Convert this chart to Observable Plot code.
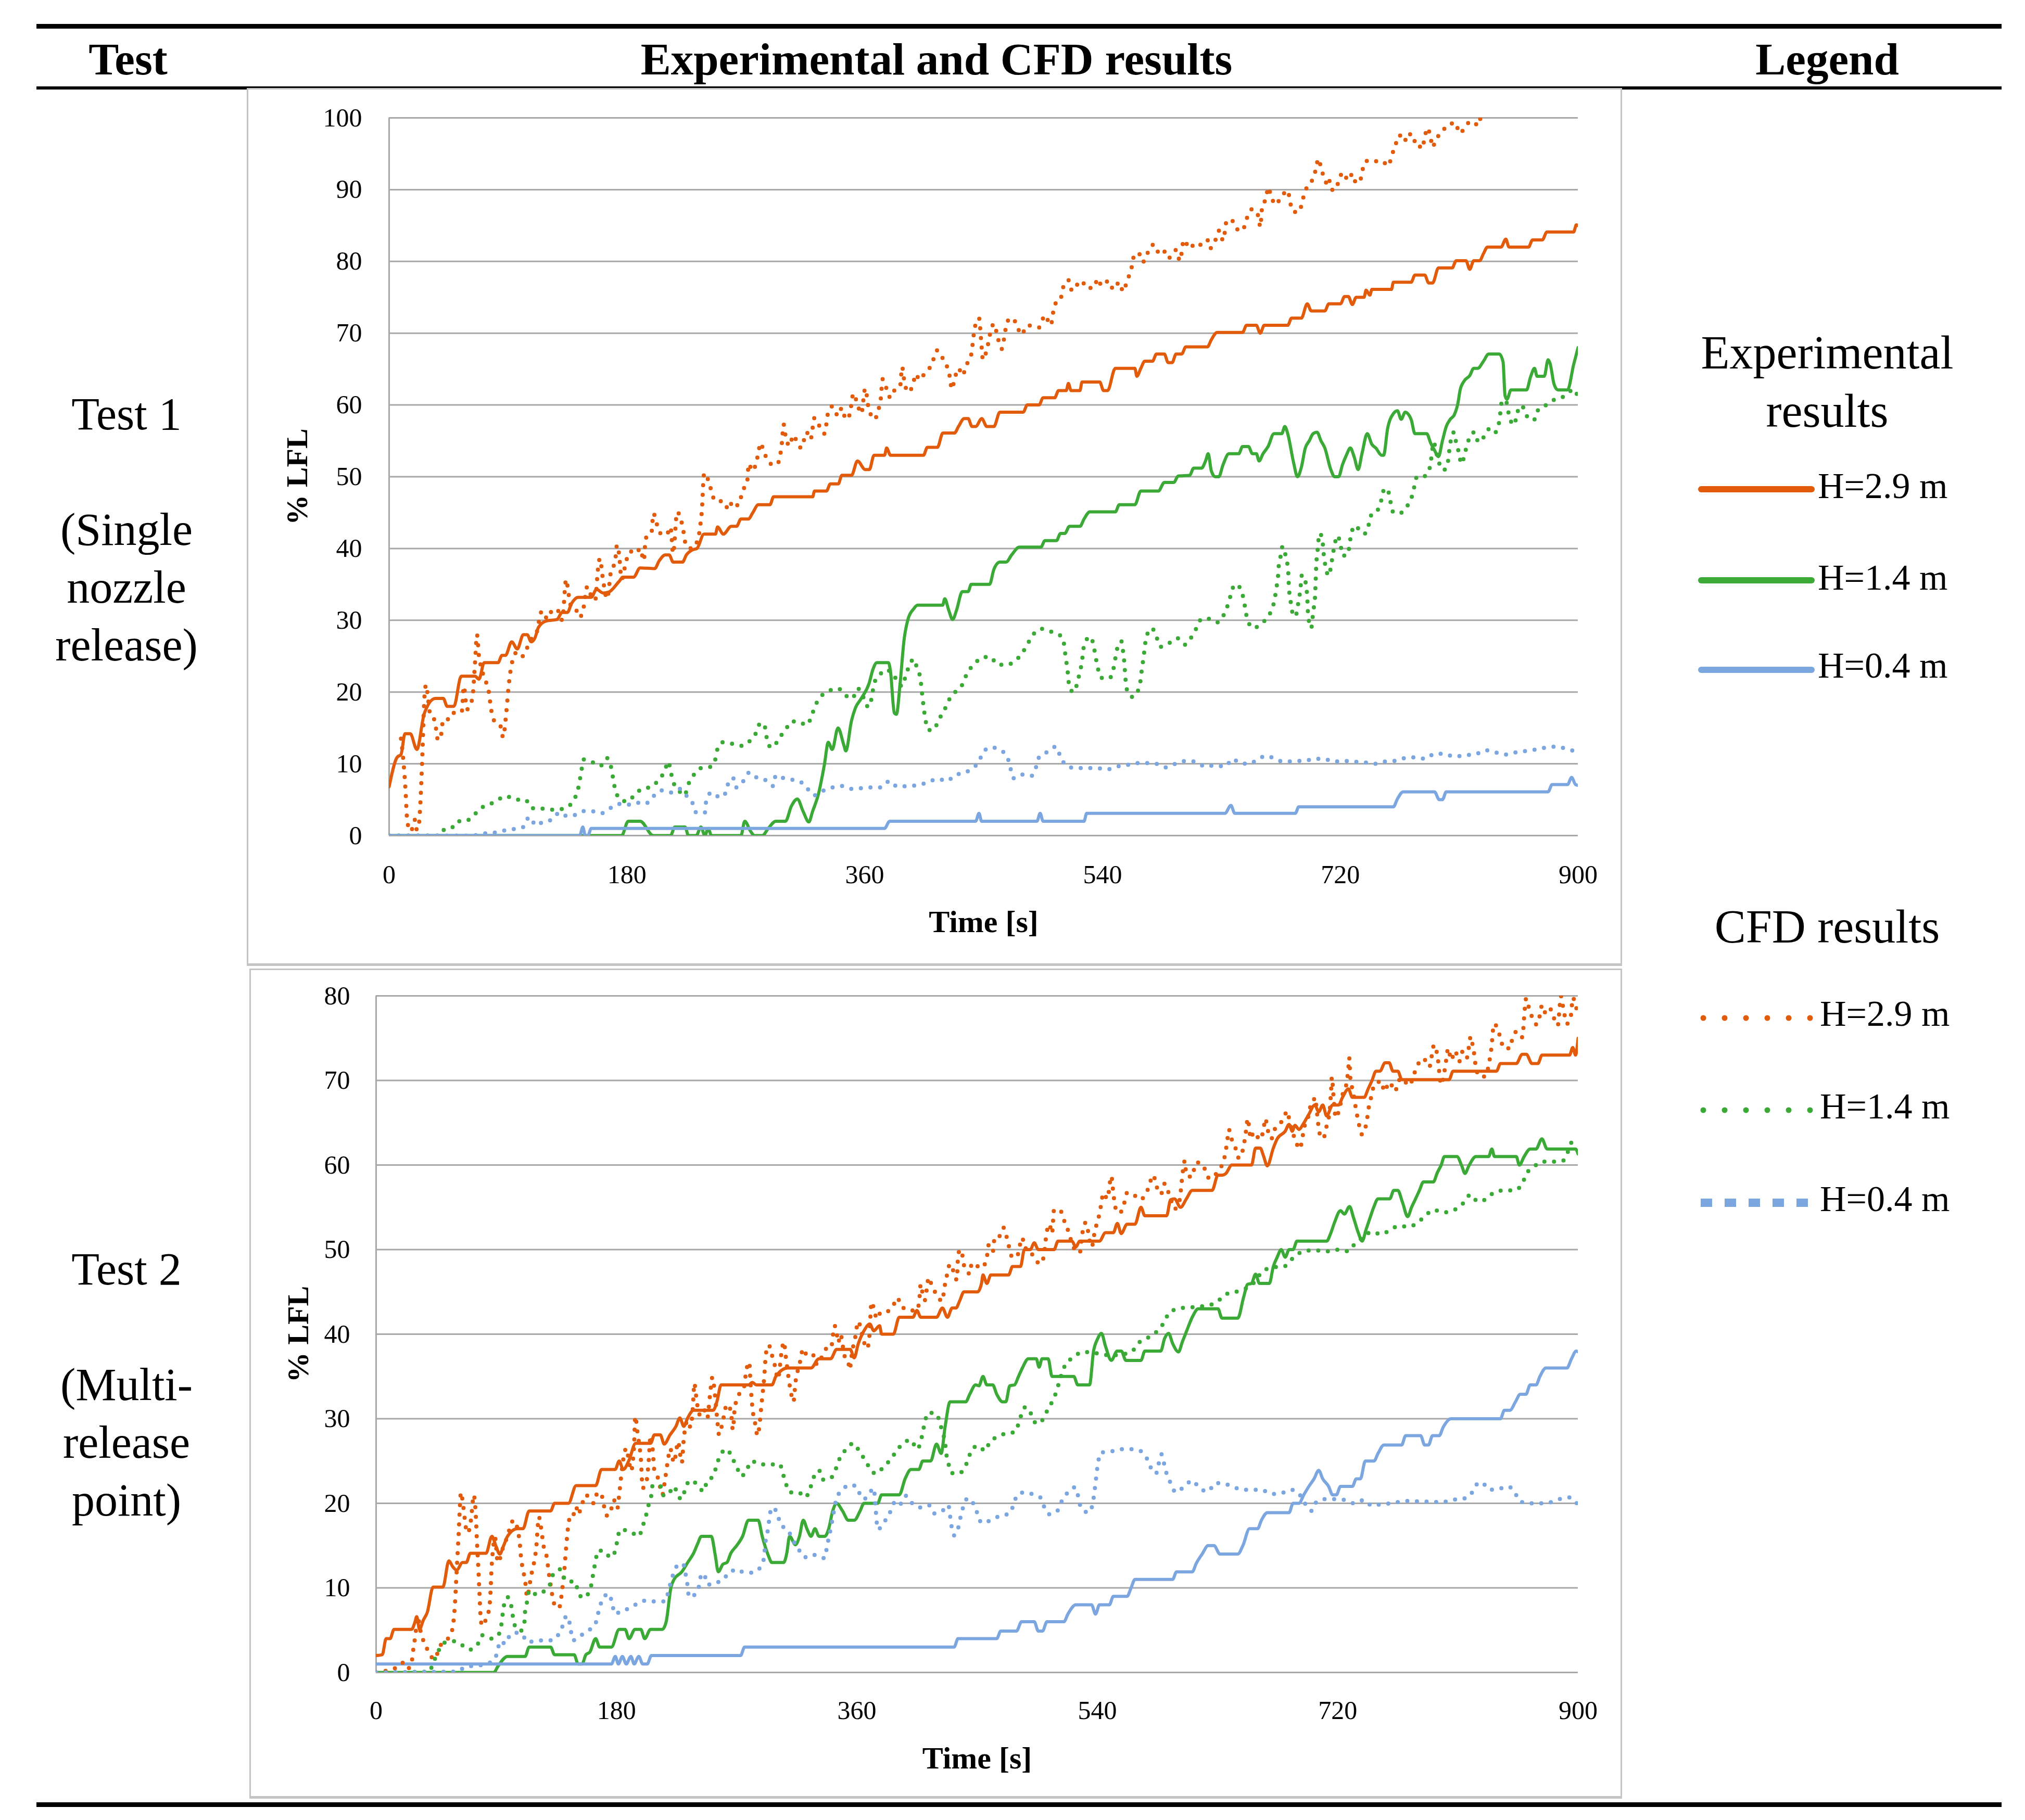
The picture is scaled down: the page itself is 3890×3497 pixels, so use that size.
<!DOCTYPE html>
<html><head><meta charset="utf-8">
<script src="https://cdn.jsdelivr.net/npm/d3@7"></script>
<script src="https://cdn.jsdelivr.net/npm/@observablehq/plot@0.6"></script>
<style>
html,body{margin:0;padding:0;background:#fff;overflow:hidden;}
#page{position:relative;width:3890px;height:3497px;font-family:"Liberation Serif","Times New Roman",serif;color:#000;}
.abs{position:absolute;}
.rule{position:absolute;background:#000;left:70px;width:3775px;}
.hdr{position:absolute;font-weight:bold;font-size:87px;line-height:87px;white-space:nowrap;text-align:center;}
.col{position:absolute;font-size:88px;line-height:111px;text-align:center;white-space:nowrap;}
.box{position:absolute;box-sizing:border-box;border:3px solid #c4c4c4;border-bottom-width:5px;background:#fff;}
.lg{position:absolute;font-size:70px;line-height:70px;white-space:nowrap;}
.lgt{position:absolute;font-size:90px;line-height:112px;text-align:center;white-space:nowrap;}
</style></head>
<body><div id="page"></div>
<script>
// ---------------- data: time [s] / % LFL ----------------
const xTicks = [0, 180, 360, 540, 720, 900];
const yTicks1 = [0,10,20,30,40,50,60,70,80,90,100];
const yTicks2 = [0,10,20,30,40,50,60,70,80];
const heights = ["H=2.9 m", "H=1.4 m", "H=0.4 m"];
const colors = ["#E15B0B", "#3AA935", "#7CA6DF"];

// Test 1 – experimental
const t1Exp29 = [[0,6.8],[6,10.9],[9,11.3],[12,14.2],[16,14.2],[21,12],[26.6,17],[35,19.1],[41,19.1],[44,18],[49,18],[54.6,22.2],[65,22.2],[68,21.8],[72,24.1],[82.5,24.1],[85.4,25.1],[88,25.1],[92.8,27],[97,26],[101.6,28],[104.5,28],[107.5,27],[110.5,27.6],[113,29],[119,29.9],[127,30.1],[131,31.1],[135,31.1],[138,32.3],[143,33.2],[153,33.2],[157,34.3],[162,33.8],[166,33.9],[174,35.4],[177,36],[185,36],[190,37.3],[201,37.2],[204.5,38.3],[209,39.1],[212,39.1],[215,38.1],[222,38.1],[225,39.1],[229.5,39.8],[233,40],[238.3,42],[247,42],[248.6,43],[253,42],[259,43.1],[263,43.1],[266.3,44.1],[272,44.1],[275,44.9],[279.5,46.1],[288.3,46.1],[291,47.2],[320.6,47.2],[322,48],[331,48],[334,49],[340,49],[342.7,50.2],[350,50.2],[354.5,52.2],[360.4,51],[363.5,51],[367.1,53],[375,53],[376.6,54],[379.5,53],[404.5,53],[407.4,54.1],[415,54.1],[419.2,56.1],[428,56.1],[431,57],[435.3,58.1],[438.3,58.1],[441.2,57],[444,57],[448.6,58.1],[452.4,57],[457.8,57],[462.3,59],[480,59],[483,60],[492,60],[495,61],[503.8,61],[506.7,62],[512.5,62],[514.2,63],[516.2,62],[522.9,62],[524.5,63.2],[537.9,63.2],[540.8,62],[543.8,62],[549.7,65.1],[564.5,65.1],[566,64],[569,65.1],[572,66.1],[577.9,66.1],[580.8,67.1],[586.8,67.1],[589.7,65.9],[592.7,65.9],[595.7,67.1],[600,67.1],[603,68.1],[619.4,68.1],[622.4,69.1],[626.8,70.1],[646,70.1],[649,71.1],[656.4,71.1],[659.4,70],[662.4,71.1],[680.2,71.1],[683.1,72.1],[690.5,72.1],[695,74.1],[698,73.1],[708.3,73.1],[711.3,74.1],[720.2,74.1],[723.2,75.1],[726.1,75.1],[729.1,74],[732,75],[738,75],[739.5,76],[742.4,75.3],[743.9,76.1],[758.7,76.1],[760.2,77.1],[773.6,77.1],[776.5,78.1],[783.9,78.1],[786.9,77],[789.9,77],[794.3,79.1],[804.7,79.1],[807.7,80.1],[815.1,80.1],[818,78.9],[821,80.1],[825.5,80.1],[828.4,81.1],[831.4,82],[841.7,82],[845.3,83.1],[847.7,82],[862.5,82],[865.5,83],[872.9,83],[876.4,84.1],[896.6,84.1],[898.7,85.1],[900,85]];
const t1Exp14 = [[0,0],[176,0],[181,2],[190,2],[200,0],[213,0],[216.3,1.2],[224,1.2],[226.6,0],[232.5,0],[236,1.2],[239,0],[241.5,1],[244,0],[266.3,0],[269.2,2],[273.6,0.6],[276.6,0],[282.5,0],[287,1],[292.7,2],[300,2],[304.5,4.1],[309,5.1],[313.3,3.4],[317.7,1.9],[320.6,3.4],[325,5.8],[329.5,9.9],[332.4,13],[335.4,12],[339.8,15],[344.2,12.6],[345.7,11.8],[350,16],[353,17.8],[357.4,19.1],[363.3,21.2],[366.3,23.2],[369.2,24.1],[378,24.1],[379.5,22.9],[382.4,17.1],[384,16.9],[386.8,21.2],[389.8,27.3],[392.7,30.1],[397.1,31.6],[400,32.1],[419,32.1],[420.6,33],[423.6,31.4],[426.5,30.1],[429.5,31.4],[433.9,34],[438.3,34],[440.6,35],[454.5,35],[457.8,37.1],[462.3,38.1],[467,38.1],[471.2,39.1],[477,40.2],[493.4,40.2],[496.4,41.1],[505.2,41.1],[508.2,42.1],[511.5,42.1],[515,43.1],[523,43.1],[526,44.1],[530.4,45.1],[549.7,45.1],[552.7,46.1],[564.5,46.1],[569,48],[582.3,48],[586.8,49.2],[594,49.2],[597.2,50.1],[606,50.2],[609,51.2],[615,51.2],[618,52.2],[620,53.2],[622.4,50.8],[625.3,50],[628,50],[631.3,51.7],[635.7,53.2],[643.1,53.2],[646,54.2],[650.5,54.2],[653.5,53.2],[656.5,53.2],[658.5,52.2],[661.5,53.2],[665.3,54.2],[669.8,56],[675.7,56],[678,57],[680.2,56],[684.6,52],[687.6,50],[690.5,51.3],[693.5,54],[696.5,55],[699.4,56],[702.4,56.2],[705.4,55],[708.3,54],[712.8,51],[715.7,50],[718.7,50],[721.7,51.7],[724.6,53],[727.6,54],[730.6,52.7],[733.5,51],[736.5,53.3],[740.4,56],[743.9,54.5],[746.9,54],[751.3,53],[752.8,53],[755.8,56.7],[760.2,58.8],[763.2,59.2],[766.1,58],[769.1,59],[773.6,58],[776.5,56],[785.4,56],[788.4,54.7],[791.3,53.7],[794.3,52.8],[797.3,55],[800.2,57],[803.2,58],[806.2,58.6],[809.1,60.3],[810.6,62],[813.6,63.3],[818,64.1],[821,65.1],[824,65.1],[828.4,66.1],[832.3,67.1],[840.3,67.1],[843.2,66],[844.7,61.3],[846.2,60.8],[849.2,62.1],[861,62.1],[864,63.9],[867,65.1],[869,64],[874.4,64],[877.3,66.3],[878.8,65.8],[881.8,62.9],[884.7,62.1],[892,62.1],[896.6,65.6],[900,68]];
const t1Exp04 = [[0,0],[144.3,0],[146.6,1.2],[148.5,0],[150.5,0],[153,1],[375,1],[378.9,2],[444,2],[446.5,3.1],[448.5,2],[490.4,2],[492.8,3.1],[495,2],[526,2],[528,3.1],[632.7,3.1],[637.2,4.2],[640.1,3.1],[686,3.1],[688.5,4],[760.2,4],[763.2,5.1],[767.6,6.1],[791.3,6.1],[794.9,5],[797.3,5],[800.2,6.1],[877.3,6.1],[880.3,7.1],[892,7.1],[895.1,8.1],[898.1,7.1],[900,7]];

// Test 1 – CFD
const t1Cfd29 = [[9,13.5],[11,10],[12.5,6],[13.5,2.5],[15,1],[16.5,0.6],[18,1.3],[19.5,2.2],[21,0.8],[22.5,1.5],[23.5,4],[24.5,8],[25.3,12],[26,16],[26.8,19.5],[28,21],[29.5,19],[31,17],[33,16.7],[35,15.5],[37,13.3],[39,13.7],[41,16.2],[46,16.2],[50,17.3],[55,17.3],[56.5,20.8],[59,17.6],[63,19.1],[65,24],[66.5,28],[68,25],[70,23.3],[72,21.9],[75,20.5],[77.5,17.3],[79.5,16],[84,15.4],[86.3,13.7],[88.4,16.6],[90.7,21.2],[92.8,23.9],[97,25.6],[101,25],[104,26],[108,27.5],[112,28.5],[115,31.1],[118,30.2],[121,31.3],[125,30.8],[128,31.3],[131,30],[134,35.7],[136,33.5],[138,31.8],[141,31.6],[144.3,30.4],[147,31.6],[150,34.7],[153,33.4],[156,32.8],[158,37],[159.5,38.6],[162,35.5],[165,33],[168,36.9],[171,38.1],[172.5,40.5],[174,39.3],[176,35.7],[179.5,38.3],[182.5,39.6],[187,39.3],[190,40],[192.8,38.3],[194.2,41.4],[198.6,42.2],[200,44.9],[203,43.2],[206,42],[210,41.9],[213,43],[215,39.3],[218,45.1],[222,43.2],[225,40.3],[229.5,40],[232,40.5],[235.4,43],[237,46.1],[237.8,49.2],[238.5,50.5],[241,49.8],[243,48.6],[247,46.6],[253,46.6],[257,45.4],[260,46.6],[264,46],[268,48.2],[271,49.2],[272.2,51.8],[275,50.8],[279.5,53.3],[281,54.7],[284,53.3],[287,52.2],[291,51.6],[294,51.8],[296,53],[297.2,54.5],[298.6,57.3],[300,55.8],[303,54.3],[306,55.8],[309,54.7],[312,54],[316,56.2],[319,55.2],[322,58.2],[325,57.3],[329.5,56],[332.4,59],[335.4,59.8],[339.8,58.5],[342.7,59.6],[345.7,58],[348.5,58.6],[351.5,61.6],[354.5,60.1],[357.4,58.8],[360.4,62.3],[363,59.5],[367.7,58],[370,59.2],[372,60.6],[373.6,63.6],[376.5,62.3],[379.5,61],[382.4,62],[386.8,62.6],[388.3,65.3],[390,63.3],[392.7,61.8],[396.5,62.8],[398.6,64.3],[401.5,63.5],[406,64.6],[410.4,65.5],[414.8,67.6],[417.7,67],[420.6,65.8],[423.6,64.8],[424.8,63.3],[425.9,62.2],[428,63.6],[431,65.1],[434,64.1],[436.8,65.5],[440.6,67],[442.7,70],[444,71.3],[446.5,72.1],[448,69.3],[449.5,66.3],[451.5,67.1],[453.4,68.5],[455,70],[457.8,71.3],[460.8,69.3],[463.7,67.8],[466.7,70.6],[469.7,72.1],[474,71.6],[478.6,69.8],[483,71.1],[492,70.8],[496.4,72.5],[500.8,71.1],[503.8,74],[508.2,74.6],[509.7,76.1],[514.1,77.4],[517,75.9],[520,76.6],[524.5,77.3],[527.5,76.3],[533.4,76.3],[536.4,77.6],[539.3,76.6],[544.7,77.3],[548.2,76.1],[552.7,77.1],[555.6,75.8],[558.6,77.3],[561.6,78.8],[564.5,81.1],[567.5,81.1],[570.5,79.9],[573.4,80.9],[577.9,82.3],[580.8,81.3],[585.3,81.8],[589.7,80.4],[592.7,81],[595.7,81.6],[598.6,80.1],[601.6,83],[606,81.8],[610.5,82.6],[615,82.3],[619.4,83],[621.2,81.8],[625.3,82.9],[628.3,84.3],[631.3,82.9],[634.2,85.8],[638.7,85.6],[643.1,84.3],[646,84.3],[649,85.9],[653.5,87.3],[658,86.3],[659.4,84.8],[661,87.8],[663.9,88.8],[665.3,90.3],[667.7,89.1],[670.7,87.9],[675.7,89.1],[680.2,89.9],[682.2,88.1],[684.6,86.9],[689,86.9],[691.1,88.3],[693.5,89.8],[696.5,90.9],[699.4,91.5],[701.8,93.1],[703.3,94.3],[705.4,93.1],[707.7,91.6],[709.8,90.9],[711.3,91.6],[712.8,90.1],[715.7,89.9],[718.7,91.1],[721.7,92.4],[726.1,91.3],[729.1,92.2],[732,90.9],[735,91.2],[736.5,92.5],[739.5,94],[743.9,93.8],[748.4,94],[751.4,94],[756.4,93.3],[758.7,94.6],[761.7,96.2],[764.7,97.6],[768.2,96.7],[772.1,97.9],[775,96.7],[778,96.9],[780,96.1],[781.9,95.7],[784,97.4],[786,98.6],[788.4,97.2],[789.9,95.9],[792,96.9],[796.7,97.9],[801.1,99],[807.7,99.3],[809.7,97.9],[812,98.1],[816,99.2],[821,99.5],[824,98.9],[826,99.9],[828,100.6]];
const t1Cfd14 = [[0,0],[38,0],[40,0.7],[47,1],[51.6,2],[57.5,2],[63.4,2.7],[69.3,3.8],[76.6,4.4],[82.5,5],[88.4,5.5],[95.7,5],[103,5],[108.4,3.8],[114.3,3.8],[120.7,3.6],[126.6,3.6],[134,3.9],[139.8,5],[142.8,6.3],[144.3,7.7],[145.7,9.2],[147.2,10.6],[153,10.3],[159.8,9.7],[164.8,10.8],[167.8,9.7],[170.7,6.8],[173,5.5],[178,4.8],[181,4.8],[185.4,5.6],[191.3,6.5],[198.7,6.8],[204.5,7.9],[208.4,8.9],[211.3,10.3],[213.4,8.7],[215.4,7.3],[218.4,6.5],[223.6,5.6],[226.6,7.2],[230.4,8.4],[236,9.4],[243.6,9.6],[247.2,10.8],[248.6,12.1],[252.5,13],[259.8,12.8],[267.2,12.5],[273.6,13.3],[278,14.4],[281,15.7],[284,15.4],[287,12.6],[290.7,12.3],[294.8,13.5],[300,14.7],[304.5,15.9],[309,15.9],[316.3,15.4],[319.8,16.7],[322.8,18.2],[326.5,19.3],[332.4,20.1],[339.8,20.5],[345.7,19.5],[350.7,19.1],[354.5,20.5],[357.4,20],[360.4,18.6],[362.7,17.9],[365.4,19.3],[367.1,21.2],[370.7,22.2],[375.7,23.1],[381,22.6],[384.8,21.5],[388.3,20.8],[391.2,22.4],[393.6,23.6],[397.1,24.6],[399.5,23.4],[402.1,21.9],[403.9,19],[406,16.1],[408.3,14.7],[411.8,14.7],[416.2,16.2],[420.6,17.6],[424.4,19.1],[429.5,20.2],[434.4,21.2],[437.4,22.6],[442.7,23.8],[448.6,24.8],[454.9,24.9],[460.8,23.8],[467.6,23.8],[474.1,24.4],[479.5,25.5],[483.6,26.8],[487.5,28],[494.3,28.8],[501.4,28.4],[509.1,27.7],[511.2,26.3],[512.1,24.8],[513.3,23.4],[514.1,21.9],[515,20.5],[518.6,20],[521,21.4],[523,22.9],[524.5,24.3],[525.4,25.8],[527.5,27.2],[531,27.7],[533.4,26.3],[534.9,24.8],[536.4,23.4],[538.7,22],[545.3,21.9],[548.2,23.2],[551.2,26.1],[554.2,27.1],[555.6,25.6],[556.5,24.1],[557.1,22.6],[557.7,21.2],[559.5,19.8],[563,19.3],[567.5,20.5],[569,21.9],[569.9,23.4],[571.1,24.8],[572,26.3],[573.4,27.8],[577.3,28.9],[580.8,27.7],[583.8,26.3],[590.3,26.8],[596.6,27.5],[602.5,26.6],[607.5,27.7],[611.4,29],[615,30.2],[620.9,30.2],[626.8,29.7],[631.9,30.8],[634.8,32.1],[637.2,33.6],[640.1,35],[644.6,34.4],[646.7,33],[648.2,31.5],[649.6,30.1],[654.4,28.9],[659.7,29.5],[664.4,30.3],[668.3,31.6],[670.4,33],[671.6,34.5],[672.8,36],[673.3,37.4],[674.8,38.9],[676.3,40.3],[678.7,38.9],[680.2,37.4],[680.8,36],[681.1,34.5],[682.2,33],[683.1,31.5],[686.1,30.5],[687.6,31.8],[689,33.3],[690,34.7],[690.5,36.2],[692.9,36.2],[694.1,34.7],[695,33.2],[695.3,31.8],[695.9,30.3],[698,28.9],[699,30.3],[700,31.8],[700.9,33.3],[701.2,34.7],[701.5,36.2],[701.8,37.7],[702.4,39.1],[703.3,40.6],[703.9,42.1],[706,41.7],[707.7,38.8],[709,37.3],[711.3,36.2],[713,37.6],[714.3,39.1],[715.7,40.5],[717.8,41.8],[720.2,40.5],[721.7,39],[725.5,39.1],[727,40.5],[728.2,42],[731.4,43.2],[736.5,42.1],[739,42.1],[741.8,43.5],[743.9,44.9],[748.4,45.4],[751.3,46.9],[753.4,48.4],[756.4,47.9],[758.1,46.4],[760.2,45],[764.7,44.9],[770.6,45.9],[774.1,47.2],[776,48.6],[778,50],[782.4,50],[786.9,50.7],[788.4,52],[790.8,54.8],[792.5,53.5],[794.3,52.3],[796.7,51],[799,51],[801.7,52.3],[802.6,53.8],[803.8,55.2],[806.2,56.2],[807.7,54.7],[810,53.2],[811.5,51.8],[813.6,52.7],[815.6,54.2],[818,55.5],[821.6,56.2],[824.6,54.8],[829.3,55.7],[833.4,56.8],[837.3,56.2],[840.3,57.7],[841.2,59],[842.4,60.6],[845.3,60.6],[847.1,59.1],[849.2,57.7],[851.5,57.2],[853.6,58.6],[856,59.9],[859.5,59.4],[862.5,58],[867,58],[870,59.4],[875,59.9],[880.3,60.6],[886.2,60.9],[891.6,61.5],[896.6,62.2],[900,61]];
const t1Cfd04 = [[0,0],[63,0],[72,0.3],[79.6,0.4],[87,0.7],[94.3,0.9],[101.6,1.2],[106,2.6],[111.3,1.4],[116.3,1.9],[123,2.2],[129,3.2],[134.8,2.7],[141.3,2.9],[147.2,3.4],[153,3.4],[160.4,3.1],[167.2,3.8],[173.7,4.4],[181,4.3],[186.9,4.6],[193.7,4.4],[200.1,5.5],[206,6.3],[213.4,6],[220.1,6.5],[223.6,5.8],[229.5,4.6],[232.5,3.2],[239,3.2],[240,4.8],[244,6],[250.7,5.3],[255.4,6.2],[257.2,7.7],[260.4,8],[262.8,6.7],[267.7,7.5],[272.8,8.8],[278.9,8],[285.4,7.7],[290.7,6.9],[292.7,8.4],[298.6,8],[304.5,7.8],[310.4,7.6],[316.3,6.6],[321.6,5.6],[328,6.2],[335.4,6.7],[342.7,6.9],[350,6.5],[357.4,6.6],[364.8,6.7],[372,6.7],[378.9,7.6],[384.8,6.8],[392.1,6.9],[399.5,7],[407.4,7.4],[415.4,7.9],[422.1,7.6],[428.9,8.5],[435.3,8.7],[441.2,9.4],[446.5,10.3],[449.5,11.6],[455.7,12.3],[462.9,11.9],[468.2,10.8],[470.3,9.4],[472.6,8],[478.6,8.5],[486,8.3],[489.8,9.6],[491.9,10.9],[498.7,11.7],[504.7,12.4],[508.2,11],[512.7,9.7],[520.1,9.4],[528.1,9.4],[535.8,9.4],[543.2,9.2],[550.6,9.6],[557.7,9.8],[565.4,10.1],[572.8,10.1],[580.8,10],[587.7,9.5],[595.1,10],[603.1,10.4],[610.5,10.3],[617.9,9.6],[625.3,9.8],[632.7,9.6],[638.7,10.7],[643.7,10.1],[651.4,10],[657.9,10.7],[664.7,11.1],[672.2,10.5],[679.3,10.3],[686.7,10.4],[693.5,10.4],[699.4,10.7],[707.4,10.7],[714.9,10.3],[722.6,10.4],[730,10.3],[738,10.2],[746,10],[753.4,10.3],[761.1,10.4],[769.1,10.8],[776.5,10.9],[784.5,10.7],[791.3,11.4],[798.7,11.4],[806.2,11],[814.5,11.2],[821.9,11.3],[829.9,11.9],[837.3,11.6],[845.3,11.3],[853,11.6],[861,11.8],[868.4,12],[876.7,12.3],[884.1,12.4],[892.1,12],[900,11.7]];

// Test 2 – experimental
const t2Exp29 = [[0,2],[4.6,2.1],[7.5,4],[10.5,4],[13.4,5.1],[26.6,5.1],[29,5.9],[30.4,6.6],[32.5,5.1],[35.4,6.2],[38.3,7.1],[42.7,10.1],[50,10.1],[54.5,13.2],[57.4,12.5],[60.3,12.1],[64.7,13],[67.5,13],[70.6,14.1],[82.3,14.1],[86.7,16.1],[89.6,15],[92.6,14],[95.5,15],[98.4,16.1],[105.8,17],[110,17],[114.6,19.1],[130.7,19.1],[133.6,20],[144,20],[149.8,22.1],[164.4,22.1],[168.8,24],[179,24],[182,25],[185,24],[189.4,25.1],[194.3,27.1],[205.5,27.1],[208.4,28.1],[212.8,28.1],[215.7,27],[220.1,28.1],[224.5,29.1],[227.4,30.1],[230.4,29.1],[233.3,30.1],[237.7,31],[252.4,31],[255.3,32.1],[258.3,34],[278.8,34],[281.7,34.3],[284.7,34],[296.4,34],[299.3,35],[308.1,36],[325.7,36],[331.6,37.1],[340.4,37.1],[344.8,38.2],[355,38.2],[358,37.2],[360.9,38.8],[365.3,40.4],[369.7,41.2],[372.6,40.4],[377,41],[378.5,40],[387.3,40],[391.7,42],[402,42],[404.9,42.8],[407.8,42],[419.6,42],[424,43.1],[427.8,42],[431.3,43.1],[434.2,43.1],[437.1,44],[440.1,45],[450.3,45],[453.3,46],[454.4,47],[457.3,46],[460.3,47],[473.6,47],[476.5,48],[482.5,48],[485.4,50],[489.8,50],[492.8,50.8],[495.8,50],[507.6,50],[510.6,51],[521,51],[523.9,50.3],[526.8,51],[541.6,51],[546.1,52],[552,52],[555,53.1],[557.9,51.9],[562.3,53],[568.2,53],[572.7,55],[575.6,54],[591.9,54],[594.9,55.9],[597.8,56],[602.3,55],[606.7,56],[611.1,57],[625.9,57],[630.4,58.8],[633.3,58.8],[636.3,59],[640.7,60],[655.5,60],[658.5,62],[662,62],[664.4,61.1],[667.3,59.9],[671.8,62],[674.7,63.1],[680.7,64],[683.6,64.8],[686,64],[688,64.7],[691,64.2],[694,64.8],[698.4,66],[702.8,67.1],[705.8,66.3],[708.8,67.1],[711.7,65.8],[716.2,67.1],[720.6,67.1],[723.6,68],[728,69],[731,68],[739.8,68],[742.8,69],[745.7,70],[748.7,71.1],[751.6,71.1],[755.5,72.1],[758.5,72.1],[761.4,71.1],[765,71.1],[768,70.1],[803.4,70.1],[806.4,71.1],[838.9,71.1],[841.9,72],[853.7,72],[858.2,73.1],[861.2,73.1],[865.5,72],[869.9,72],[873,73],[893.6,73],[896,73.9],[898.1,73],[900,75]];
const t2Exp14 = [[0,0],[88.2,0],[91.1,0.7],[98.4,1.9],[111.6,1.9],[114.6,3],[130.7,3],[133.6,2.1],[148.3,2.1],[151.2,1],[154.2,1],[157.1,2.1],[160,2.4],[164.4,4],[167.4,3],[176.2,3],[182,5.1],[186.4,5.1],[189.4,4],[193.8,5.1],[198.2,5.1],[201.1,4],[205.5,5.1],[214.3,5.1],[217.2,6],[220.7,10],[223.1,11],[228.9,11.9],[233.3,13],[237.7,14.1],[240.7,15.2],[243.6,16.1],[251,16.1],[253.9,13.9],[256.2,11.9],[259.7,12.8],[262.7,13],[265.6,14.1],[270,15],[274.4,16.1],[278.8,18],[286.1,18],[289.1,16.1],[293.5,13.9],[296.4,13],[305.2,13],[307.5,14.1],[309.6,16.1],[314,15.1],[317,16.1],[319.8,18],[322.8,16.9],[325.7,16.1],[328.6,17],[331.6,16.1],[336,16.1],[338.9,17],[341.9,19.1],[344.8,20],[349.2,19.1],[353.6,18],[358,18],[362.4,19.1],[365.3,20],[375.6,20],[378.5,21],[391.7,21],[396.1,22.9],[400.5,24],[406.4,24],[409.3,25],[415.2,25],[419.6,27],[423.1,25.9],[426,29],[429.8,32],[441.5,32],[444.5,32.9],[448.9,34],[451.4,33.9],[454.4,35],[457.3,34],[461.7,34],[464.7,32.9],[469.1,32],[471.5,32],[474.5,33.9],[478,34],[481,35],[483.9,36],[488.4,37.1],[494.3,37.1],[496.4,36.1],[498.7,37.1],[503.2,37.1],[506.1,35],[522.4,35],[525.4,34],[534.2,34],[537.2,38],[540.1,39.4],[543.1,40.1],[546.1,38.6],[550.5,36.9],[554.9,38],[558,38],[561.4,36.9],[572.7,36.9],[575.6,38],[587.5,38],[590.4,39.5],[593.4,40.1],[596.4,38.9],[600.8,37.9],[603.7,39.1],[606.7,40.3],[611.1,42],[615.6,43],[630.4,43],[633.3,41.9],[645.2,41.9],[649.6,44.4],[652.6,45.9],[655.5,46],[658.5,47.1],[661.4,46],[668.8,46],[671.8,48],[674.7,49.1],[677.7,50],[680.7,49.1],[683.6,50],[686.6,50],[689.5,51],[711.7,51],[714.7,51.9],[717.6,53.2],[722.1,54.6],[725,54.2],[728.9,55.1],[731.8,53.8],[735.4,52],[738.3,51],[741.3,52.4],[744.3,53.8],[747.2,55.1],[750.2,56],[759,56],[762,57],[765,57],[768.5,55.6],[772.4,53.9],[775.3,55],[778.3,56],[781.2,57],[784.2,58],[791.6,58],[794.6,59.1],[797.5,60],[799.9,61],[809.3,61],[812.9,59.9],[815.3,59],[818.2,59.9],[823.5,61],[833,61],[835.4,61.9],[837.4,61],[853.7,61],[856,60],[859.6,61],[864.1,61.9],[868.5,61.9],[872.9,63.1],[876.8,61.9],[898.1,61.9],[900,61.3]];
const t2Exp04 = [[0,1],[176.2,1],[179.1,1.9],[181.4,1],[184.4,1.9],[187.3,1],[190.8,1.9],[193.2,1],[196.7,1.9],[199.6,1],[203,1],[206.1,2],[272.9,2],[275.9,3],[432.8,3],[435.7,4],[464.7,4],[467.7,4.9],[479.5,4.9],[483.3,6],[492.8,6],[495.8,4.9],[499,4.9],[502.3,6],[515,6],[518,6.9],[523.9,8],[535.7,8],[538.7,6.9],[541.6,8],[549,8],[552,9],[562.3,9],[565.3,10],[568.2,11],[596.4,11],[599.3,11.9],[611.1,11.9],[614.1,12.9],[618.5,14],[623,15],[627.4,15],[631.8,14],[645.2,14],[649,15],[654,17],[660,17],[662.9,18],[667.3,18.9],[683.6,18.9],[686.6,20],[691,20],[694.6,21],[698.4,22],[702.3,22.9],[705.8,23.9],[708.8,22.9],[713.2,22],[716.2,21],[719,21],[722.1,22],[731,22],[733.9,22.9],[737,22.9],[740.7,25],[747.2,25],[750.2,25.9],[754.6,26.9],[767.9,26.9],[770.9,28],[782.1,28],[785.1,26.9],[788,26.9],[791,28],[796,28],[799,29],[804.9,30],[841.9,30],[844.8,31],[849,31],[853.1,32],[856.7,32.9],[861,32.9],[864.1,34],[868.5,34],[871.4,35],[875.9,36],[891.6,36],[895.1,37.1],[898.6,38],[900,37.9]];

// Test 2 – CFD
const t2Cfd29 = [[0,0],[10,0.3],[17.8,0.8],[20.7,1.2],[24,0.5],[26,0.7],[28,2.9],[29.5,4.5],[31,6.6],[33.9,4.4],[36.9,3.3],[39.8,2.2],[44.2,1.6],[47.1,2.9],[51.5,3.7],[55.5,4.4],[57.5,5.5],[59,8],[60,11],[61,14],[62,17],[62.7,19.5],[63.5,21.3],[65,20],[66.5,18],[68,16.5],[70,17],[72,19.5],[73,21],[74.5,19],[75.5,15.5],[76.5,12.5],[77.5,9],[78.5,6],[80,5.5],[82,6.2],[84,7],[85.5,9],[86.5,12.5],[87.5,14.5],[89,16],[91.1,13],[95.5,15],[98.4,16.1],[101.4,17.7],[103,18],[107.2,15.8],[108.7,13.3],[110.2,12],[111.6,10.8],[113.1,8.9],[114.6,10],[116,11.4],[117.5,12.4],[119.8,14.6],[121.9,18.4],[123.4,17.2],[125.7,14.7],[127.8,13.6],[129.2,11.9],[130.7,10.3],[132.8,8.4],[135.1,7.6],[137.4,7.8],[139.5,10],[141,12.2],[142.4,15],[143.9,17.4],[145.4,18.4],[146.8,18.3],[149.8,19.6],[151.2,18.7],[154.2,19.9],[157.1,21],[160,20.5],[163,20],[165.9,21.3],[168.8,21],[170.3,19.9],[173.2,18.5],[176.2,19.4],[178,20.4],[180.6,19.4],[182,21],[183.5,23.2],[185,25.1],[187.3,26.5],[189.3,25],[190.8,23.8],[193.2,27],[193.8,29.8],[194.3,30.3],[195.2,29],[196.7,27.3],[198.2,25.3],[199.6,21.8],[202.6,22.7],[204,24.8],[205.5,28],[207,26.5],[208.4,23.8],[211.3,22.9],[214.3,21],[216.6,23.1],[218.7,25.3],[220.1,26.5],[223.1,24.8],[224.5,25.9],[226,27.3],[228.9,24.8],[230.4,27.7],[233.3,29.8],[235.4,29],[237.2,31.4],[238.3,34.2],[239.5,32.8],[242.1,30.5],[245.1,31.2],[248,30.1],[250,32.8],[251.8,34.9],[253.9,32.5],[255.3,30.1],[256.8,28.1],[259.7,29.8],[262.7,31.7],[265.6,30.9],[267.1,28.7],[268.5,31.2],[271.5,32.8],[275.3,33.6],[277.3,35.8],[279.4,36.7],[280.3,34.3],[281.7,31.4],[284.1,29.2],[285.5,28],[289.1,32.5],[290.5,34.7],[292,37.8],[294,38.7],[296.4,37.5],[298.7,36.2],[300.8,34.7],[303.7,38],[305.2,39.1],[307,37],[310.5,33.2],[312.5,32],[314,34.3],[317,36.4],[319.8,38.3],[321.3,37.8],[324.2,37.3],[328,37.5],[330,36.4],[333,37.1],[337.4,38.3],[340.5,38.3],[343.3,41],[344.8,40.2],[346,39],[347.7,40],[350.6,37.5],[353.6,36.7],[354.5,35.8],[356.5,38],[358.5,39.4],[361,41.5],[363.8,40],[367.4,38.3],[369,39.1],[371,43.8],[373,42.8],[375,41.8],[378,42.6],[381,42.6],[387.3,43.4],[390,44.3],[394.6,43.1],[398,43.1],[403.4,42.7],[406.4,43.5],[407.8,45.9],[409.3,44.7],[410.8,44],[412.2,45.2],[413.7,46.7],[416,45.8],[419.6,44.7],[424,43.9],[425.4,45.4],[426.9,46.6],[429.8,48.3],[432.8,47.2],[434.8,46.4],[435.7,49],[437.1,50],[438.5,49.7],[440.1,48.2],[442.4,47.5],[444.5,47.1],[446,48.4],[448.9,48.2],[452.9,47.8],[455.8,48.3],[457.3,49.1],[458.8,50.6],[461.8,49.8],[463.2,51.5],[466.2,51.5],[469.7,52.6],[472.1,51.5],[476.5,49.1],[479.5,49.1],[483.9,51.4],[485.4,50.2],[488.4,50.1],[492.8,49],[497.3,48.3],[500.2,49.4],[501.1,50.8],[504.1,53],[506.1,51.9],[507.6,54.7],[512,54.7],[515,53.5],[518,52.3],[522.4,50.2],[526.8,49.6],[528.9,52],[531.3,53.2],[535.7,50.3],[538.7,52.6],[540.1,53.2],[542.5,55],[544.6,56.7],[547.5,56],[550.5,58.7],[552,56.7],[553.5,55],[556.4,54.3],[559.4,55],[562.3,56.7],[565.3,56.7],[572.1,55.9],[575.6,56.4],[578.6,57.4],[581.6,58.8],[583.9,57.9],[586,56.6],[588.2,56.7],[590.4,57.8],[593.4,56.7],[595.8,55.6],[597.8,54.8],[601.7,55.9],[603.2,58],[604.6,59.9],[605.5,60.5],[606.7,58.8],[611.1,58.6],[613.5,60.2],[616.5,60.3],[620.6,59.5],[623.9,58.4],[627.4,58.7],[631.3,59.5],[634.8,60.6],[636.3,61.8],[637.5,63.1],[638.4,64.2],[640.7,63],[643.7,61.9],[646,60.8],[650.2,62.8],[651.5,64.2],[652.6,65.5],[654.9,63.1],[657,63.9],[662,63],[664.4,64.2],[665.9,65.5],[667.4,64.3],[670.3,63.1],[672.7,64.2],[676.2,64.7],[680.7,66],[682.1,66.4],[684.5,64.7],[688,63.1],[691.6,61.9],[694,63.6],[695.5,64.8],[698.4,66],[699.3,66.8],[701.4,67.1],[702.8,68],[705.8,64.4],[707.3,63.2],[709.3,63.2],[711.7,64.6],[714.1,66.6],[714.7,67.9],[715.2,69.2],[715.6,70.4],[717,67.9],[718.5,65.6],[721.5,66.8],[723.6,68.3],[725.9,69.1],[728,71.5],[728.6,72.7],[729.5,70.2],[731.5,68.7],[733.9,66.4],[735.4,65.2],[738.3,63.6],[741.3,64.8],[743.7,67.2],[745.7,68.4],[747.2,69.5],[753.1,69.9],[754.6,68.7],[759,69.8],[762.6,68.7],[767.3,70.3],[773.8,69.4],[776.8,70.6],[779.8,71.8],[784.2,72.6],[788.6,71.6],[792.2,74.2],[794.6,73],[797.5,69.5],[800.5,71.6],[802.8,73.8],[804.9,72.4],[807.9,73.5],[810.8,72.2],[813.8,73.5],[816.7,72.7],[819.7,75.2],[821.2,74],[822.6,72.7],[823.5,71.4],[827.1,70.4],[831.5,70.6],[833,71.9],[834.5,73.1],[835.4,74.3],[836,75.5],[837,76.7],[839.5,76.2],[841.9,75],[844.3,73.8],[849.3,73.8],[850.8,75],[854.3,75.8],[858.2,75.1],[859.1,76.3],[859.6,77.5],[860.2,78.7],[861.1,79.7],[863,78.7],[865.5,77.5],[869,76.6],[871.5,77.8],[873,78.9],[875.9,77.9],[878.9,78.5],[881.8,77.4],[884.8,76.5],[886.3,78.9],[887,80],[889.2,78.3],[891.6,76.7],[894.5,77.5],[895.2,78.6],[896,79.8],[898.1,78.9],[900,77.7]];
const t2Cfd14 = [[0,0],[40,0.1],[42.7,1.2],[45.7,2.1],[48.6,3.2],[53,3.6],[58.9,3.7],[64.7,3.2],[70,2.7],[75.9,3.3],[79.4,4.4],[86.7,4],[92.6,4.7],[94,5.9],[95,7.2],[96.4,8.4],[98.4,8.9],[101.4,7.7],[102.8,6.2],[104.3,5.4],[108.1,4.9],[111,5.9],[111.6,7.3],[113.1,8.4],[114.6,9.7],[120.4,9.2],[126.3,9.7],[130.7,10.6],[132.8,11.7],[138,12.2],[141,11.1],[143.9,10.7],[148.3,10.8],[151.2,9.7],[154.2,8.8],[160,9.6],[161.5,10.7],[163,12.1],[164.4,13.2],[165.9,14.4],[170.3,14.4],[175.6,13.6],[179.1,14.4],[180.6,15.6],[182.6,16.9],[190.8,16.6],[196.7,16.1],[199.6,17.3],[202,18.5],[204,19.8],[206.1,21],[207,22.1],[212.8,22.1],[214.3,21],[217.8,20.9],[223.1,22],[226,20.9],[228.9,20.5],[231.3,21.6],[234.8,22.7],[240.7,22.2],[245.1,21.4],[248,22.7],[252.4,23.2],[254.8,24.4],[257.7,25.7],[262.7,26.4],[266.5,25.4],[270,24.3],[273.5,23.2],[277.3,23.9],[281.1,25],[287.6,24.6],[294.9,24.6],[302.3,24.6],[304.6,23.5],[306.7,22.4],[309.6,21.3],[316.3,21.3],[321.3,20.7],[325.1,21.8],[327.2,22.9],[331.6,23.9],[334.5,22.8],[339.8,22.9],[344.8,24.3],[347.1,25.3],[352.1,26.4],[357.4,27.1],[360.9,26.4],[365.3,25.3],[369.1,24.3],[374.1,23.5],[380,24.3],[385.8,25.3],[389.7,26.2],[394.6,27.1],[400.5,27.5],[404.9,26.4],[407.8,27.3],[409.3,28.4],[410.8,29.5],[413.1,30.7],[418.1,30.7],[421.9,29.7],[424,28.4],[426,27.2],[426.9,25.9],[428.4,24.8],[430.7,23.6],[435.7,23.5],[439.5,23.9],[443.6,25.3],[446,26.4],[451.4,26.8],[455.8,26.2],[459.7,27.3],[466.2,27.9],[472.1,28.3],[478,28.4],[481,29.4],[483.4,30.6],[486.3,31.4],[490.7,30.5],[494.3,29.4],[498.7,29.8],[502.3,30.9],[506.1,32],[509.1,33.1],[511.4,34.3],[513.5,35.4],[516.5,36.5],[521.8,37.2],[528.9,37.9],[537.2,37.8],[543.7,37.6],[550.5,37.5],[558.5,37.6],[566.2,38],[571.2,39],[577.1,39.5],[584.5,40.3],[590.4,41.5],[594,42.6],[603.7,43.1],[612.6,43.2],[627.4,43.6],[636.3,44.7],[648.1,45.2],[655.5,45.8],[664.4,47.5],[671.8,47.9],[679.8,48],[686.6,49],[694,49.8],[698.4,49.9],[705.8,49.9],[713.2,49.8],[720.6,50],[728,49.8],[732.4,50.6],[738.3,51.4],[745.7,52.1],[752.5,51.8],[759,52.3],[765.9,52.8],[773.2,52.7],[779.8,53.2],[785.7,54],[791.6,54.7],[799,54.4],[805.8,54.6],[812.3,55.2],[819.7,56.5],[824.7,55.7],[831.5,56],[837.4,56.8],[844.8,57],[852.2,57],[858.2,57.8],[861.1,58.9],[867,59.8],[873,60.4],[880.3,60.4],[888.6,60.5],[892.2,61.5],[895.1,62.7],[900,63.3]];
const t2Cfd04 = [[0,0],[60,0.1],[67.7,0.7],[75,0.8],[82.3,1],[88.2,1.5],[91.1,2.6],[92.6,3.7],[97,3.4],[100.5,4.5],[105.8,4.7],[110.2,4.3],[113.1,3.6],[119,3.7],[124.8,3.8],[131.6,3.8],[136.6,4.5],[140.4,5.8],[142.4,6.7],[144.8,5.9],[147.4,3.8],[152.7,4.3],[158,4.9],[163.8,5.6],[167.4,7.7],[170.3,8.9],[174.7,9.3],[176.7,8.1],[179.1,6.9],[183.5,7.3],[190.2,7.6],[196.1,8.2],[202,8.5],[208.4,8.4],[216.6,8.4],[218.7,9.5],[220.7,10.7],[223.1,11.9],[227.5,12.9],[231.3,12.5],[231.9,11.4],[233.3,10.2],[234.2,8.9],[239.2,9.3],[242.1,10.4],[243.6,11.7],[245.9,11.5],[248,10.4],[251.8,10.4],[253.9,10.6],[258.3,10.8],[261.2,11.3],[264.7,11.5],[268.5,12.2],[274.4,11.9],[281.7,11.8],[287.6,12.4],[290.5,13.6],[291.1,14.8],[292,15.9],[293.5,17],[294.5,18.3],[296.4,19.5],[300.8,18.7],[302.3,17.6],[307.5,16.9],[311,16.1],[314,15.1],[317,14.4],[319.8,13.7],[324.2,13.6],[328.6,13.9],[336,13.5],[337.4,14.7],[338.9,15.9],[340.4,17],[341.9,18.3],[344.8,20.6],[349.2,21.6],[355,22.2],[360.9,21.8],[362.4,20.9],[365.3,20.5],[369.1,21.1],[372.6,21.8],[374.1,19.2],[375.6,16.9],[378.5,17.3],[381.4,18],[384.4,18.8],[388.8,20.2],[391.7,19.8],[396.7,20.9],[401.4,20],[407.2,19.5],[413.7,19.8],[418.1,18.8],[424,19.1],[428.4,19.8],[430.7,17.4],[432.8,16.2],[435.7,17],[437.8,18.5],[440.1,19.8],[443,20.6],[447.4,19.9],[451.4,18.3],[453,17.7],[460.3,18],[466.8,18.5],[474.5,18.8],[477.4,19.9],[480.1,21],[485.4,21.3],[492.8,21],[497.3,20.7],[500.2,19.6],[504.1,18.7],[510.6,19.2],[513.5,20.3],[518,21.3],[523.3,21.9],[525.9,20.7],[527.7,19.5],[533.6,18.9],[536.6,20],[537.8,21.3],[538.7,22.4],[539.6,23.7],[540.6,24.8],[542.5,26],[549.6,26.1],[557.3,26.4],[565.3,26.4],[572.1,26.2],[577.1,25.3],[580.1,24.2],[583.9,23.5],[586,24.7],[588.1,25.8],[590,24.7],[591.9,23.5],[594.9,22.4],[598.7,21.3],[605.2,22],[611.1,22.7],[616.5,21.8],[623,21.4],[628.3,22.4],[635.4,22.3],[642.2,21.9],[649,21.6],[656.1,21.6],[662.9,21.6],[670.3,21.1],[677.7,21.2],[685.1,21.6],[691.6,21],[695.4,20],[700.5,19.1],[704.3,20.2],[711.1,20.5],[718.2,20.5],[725,20.4],[732.4,20],[739.8,20.4],[745.7,19.7],[752.5,19.9],[759.6,20],[767.3,20.2],[774.7,20.3],[782.7,20.2],[790.1,20.2],[797.5,20.1],[804.9,20.4],[812.3,20.5],[819.1,20.9],[822.7,22],[827.7,22.5],[833.6,21.6],[840.4,21.7],[847.8,22],[852.8,21.2],[856.7,20.2],[864.1,20],[871.5,20],[878.9,20.1],[886.2,20.5],[893.6,20.7],[900,19.8]];

// ---------------- layout ----------------
const page = document.getElementById("page");
function el(tag, cls, css, html) {
  const e = document.createElement(tag);
  if (cls) e.className = cls;
  Object.assign(e.style, css || {});
  if (html != null) e.innerHTML = html;
  page.appendChild(e);
  return e;
}
// rules
el("div", "rule", {top: "46px", height: "9px"});
el("div", "rule", {top: "166px", height: "6px"});
el("div", "rule", {top: "3463px", height: "9px"});
// header
el("div", "hdr", {left: "0px", width: "492px", top: "70px"}, "Test");
el("div", "hdr", {left: "1000px", width: "1598px", top: "70px"}, "Experimental and CFD results");
el("div", "hdr", {left: "3210px", width: "600px", top: "70px"}, "Legend");
// left column
el("div", "col", {left: "0px", width: "486px", top: "740px"}, "Test 1<br>&nbsp;<br>(Single<br>nozzle<br>release)");
el("div", "col", {left: "0px", width: "486px", top: "2383px"}, "Test 2<br>&nbsp;<br>(Multi-<br>release<br>point)");

// boxes
el("div", "box", {left: "474px", top: "169px", width: "2642px", height: "1687px"});
el("div", "box", {left: "479px", top: "1861px", width: "2637px", height: "1595px"});

const xy = {x: d => d[0], y: d => d[1]};
function solid(data, c) {
  return Plot.line(data, {...xy, stroke: c, strokeWidth: 6, curve: "monotone-x", clip: true, strokeLinejoin: "round"});
}
function dotted(data, c) {
  return Plot.line(data, {...xy, stroke: c, strokeWidth: 8, strokeDasharray: "0 18.5", strokeLinecap: "round", curve: "monotone-x", clip: true});
}
function chart(o) {
  const svg = Plot.plot({
    width: o.width, height: o.height,
    marginLeft: o.ml, marginRight: o.mr, marginTop: o.mt, marginBottom: o.mb,
    x: {domain: [0, 900]},
    y: {domain: [0, o.ymax]},
    style: {fontFamily: "'Liberation Serif', serif", background: "transparent", color: "#000"},
    marks: [
      Plot.gridY({ticks: o.yTicks, stroke: "#a8a8a8", strokeOpacity: 1, strokeWidth: 3}),
      Plot.ruleX([0], {stroke: "#a8a8a8", strokeWidth: 3}),
      Plot.axisY({ticks: o.yTicks, tickSize: 0, tickPadding: o.padY, fontSize: 50, label: null}),
      Plot.axisX({ticks: xTicks, tickSize: 0, tickPadding: o.padX, fontSize: 50, label: null}),
      ...o.solids.map((d, i) => solid(d, colors[i])),
      ...o.dots.map((d, i) => dotted(d, colors[i])),
      Plot.text(["% LFL"], {frameAnchor: "left", dx: o.ylabDx, rotate: -90, text: d => d, textAnchor: "middle", lineAnchor: "middle", fontSize: 58, fontWeight: "bold", fill: "#000"}),
      Plot.text(["Time [s]"], {frameAnchor: "bottom", dy: o.xlabDy, text: d => d, textAnchor: "middle", lineAnchor: "middle", fontSize: 60, fontWeight: "bold", fill: "#000"})
    ]
  });
  svg.style.position = "absolute";
  svg.style.left = o.left + "px";
  svg.style.top = o.top + "px";
  page.appendChild(svg);
}
chart({left: 474, top: 169, width: 2642, height: 1687, ml: 273, mr: 85, mt: 57, mb: 251,
  ymax: 100, yTicks: yTicks1, padY: 52, padX: 56, ylabDx: -176, xlabDy: 166,
  solids: [t1Exp29, t1Exp14, t1Exp04], dots: [t1Cfd29, t1Cfd14, t1Cfd04]});
chart({left: 479, top: 1861, width: 2637, height: 1595, ml: 243, mr: 85, mt: 52, mb: 243,
  ymax: 80, yTicks: yTicks2, padY: 50, padX: 54, ylabDx: -149, xlabDy: 165,
  solids: [t2Exp29, t2Exp14, t2Exp04], dots: [t2Cfd29, t2Cfd14, t2Cfd04]});

// legend
el("div", "lgt", {left: "3210px", width: "600px", top: "622px"}, "Experimental<br>results");
el("div", "lgt", {left: "3210px", width: "600px", top: "1725px"}, "CFD results");
function legendRow(y, baseline, color, kind, label, lx) {
  const s = document.createElementNS("http://www.w3.org/2000/svg", "svg");
  s.setAttribute("width", 240); s.setAttribute("height", 40);
  s.style.position = "absolute"; s.style.left = "3256px"; s.style.top = (y - 20) + "px";
  const ln = document.createElementNS("http://www.w3.org/2000/svg", "line");
  ln.setAttribute("y1", 20); ln.setAttribute("y2", 20);
  ln.setAttribute("stroke", color);
  if (kind === "solid") { ln.setAttribute("x1", 12); ln.setAttribute("x2", 224); ln.setAttribute("stroke-width", 12); ln.setAttribute("stroke-linecap", "round"); }
  else if (kind === "dot") { ln.setAttribute("x1", 16); ln.setAttribute("x2", 222); ln.setAttribute("stroke-width", 11); ln.setAttribute("stroke-linecap", "round"); ln.setAttribute("stroke-dasharray", "0 41"); }
  else { ln.setAttribute("x1", 11); ln.setAttribute("x2", 231); ln.setAttribute("stroke-width", 16); ln.setAttribute("stroke-dasharray", "22 24"); }
  s.appendChild(ln);
  page.appendChild(s);
  el("div", "lg", {left: lx + "px", top: (baseline - 59) + "px"}, label);
}
legendRow(940, 958, colors[0], "solid", heights[0], 3492);
legendRow(1115, 1134, colors[1], "solid", heights[1], 3492);
legendRow(1287, 1303, colors[2], "solid", heights[2], 3492);
legendRow(1956, 1972, colors[0], "dot", heights[0], 3496);
legendRow(2133, 2150, colors[1], "dot", heights[1], 3496);
legendRow(2311, 2328, colors[2], "square", heights[2], 3496);
</script>
</body></html>
